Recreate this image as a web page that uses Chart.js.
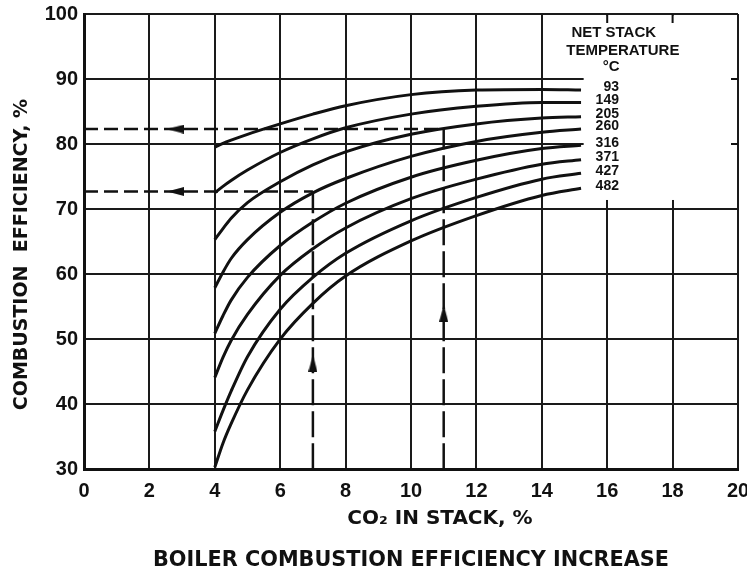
<!DOCTYPE html>
<html>
<head>
<meta charset="utf-8">
<script src="https://cdn.jsdelivr.net/npm/chart.js@4.4.1/dist/chart.umd.min.js"></script>
<style>
  html, body { margin: 0; padding: 0; background: #fff; }
  canvas { display: block; }
</style>
</head>
<body>
<canvas id="boiler" width="747" height="571"></canvas>
<script>
// CO2 in stack (%) where the curves were read
const co2 = [4, 4.25, 4.5, 5, 6, 7, 8, 10, 12, 14, 15.2];
// net stack temperature, deg C
const temps = ["93", "149", "205", "260", "316", "371", "427", "482"];
// combustion efficiency (%) for each stack temperature
const eff93 = [79.5, 80.1, 80.6, 81.5, 83.1, 84.6, 85.9, 87.6, 88.3, 88.4, 88.3];
const eff149 = [72.5, 73.5, 74.4, 76.0, 78.7, 80.8, 82.5, 84.6, 85.8, 86.4, 86.4];
const eff205 = [65.3, 67.0, 68.6, 71.0, 74.2, 76.8, 78.8, 81.5, 83.1, 84.0, 84.2];
const eff260 = [57.9, 60.3, 62.4, 65.3, 69.5, 72.5, 74.7, 78.1, 80.4, 81.8, 82.3];
const eff316 = [50.9, 53.6, 56.0, 59.5, 64.4, 68.0, 70.9, 74.9, 77.5, 79.3, 79.8];
const eff371 = [44.1, 47.2, 49.8, 53.8, 59.8, 63.9, 67.1, 71.6, 74.6, 76.9, 77.6];
const eff427 = [35.8, 39.0, 42.0, 47.3, 54.6, 59.5, 63.2, 68.2, 71.8, 74.6, 75.5];
const eff482 = [30.3, 34.0, 37.0, 42.2, 50.0, 55.5, 59.7, 65.1, 69.0, 72.1, 73.2];
const curves = [eff93, eff149, eff205, eff260, eff316, eff371, eff427, eff482];
// worked example: read-off lines
const guideCo2 = [7, 11];
const guideEff = [72.7, 82.3];
const arrowLeftX = [2.8, 2.8];
const arrowUpY = [46.3, 54.0];

const ink = "#111";

// elongated arrow head used as point style
const arrowHead = document.createElement("canvas");
arrowHead.width = 9;
arrowHead.height = 17;
{
	const g = arrowHead.getContext("2d");
	g.fillStyle = ink;
	g.beginPath();
	g.moveTo(4.5, 0);
	g.lineTo(9, 17);
	g.lineTo(0, 17);
	g.closePath();
	g.fill();
}

let datasets = temps.map((t, i) => ({
	label: t + " °C",
	data: co2.map((x, j) => ({ x: x, y: curves[i][j] })),
	borderColor: ink,
	borderWidth: 3,
	pointRadius: 0,
	cubicInterpolationMode: "monotone",
}));

guideCo2.forEach((c, i) => {
	// horizontal dashed read-across
	datasets.push({
		data: [{ x: 0, y: guideEff[i] }, { x: c, y: guideEff[i] }],
		borderColor: ink,
		borderWidth: 2.5,
		borderDash: [14, 6],
		pointRadius: 0,
	});
	// vertical dashed read-up
	datasets.push({
		data: [{ x: c, y: 30 }, { x: c, y: guideEff[i] }],
		borderColor: ink,
		borderWidth: 2.5,
		borderDash: [26, 6],
		pointRadius: 0,
	});
	// arrow heads
	datasets.push({
		data: [{ x: arrowLeftX[i], y: guideEff[i] }],
		showLine: false,
		pointStyle: arrowHead,
		pointRadius: 5,
		rotation: 270,
	});
	datasets.push({
		data: [{ x: c, y: arrowUpY[i] }],
		showLine: false,
		pointStyle: arrowHead,
		pointRadius: 5,
		rotation: 0,
	});
});

// blank legend panel, curve labels and axis titles
const chartText = {
	id: "chartText",
	beforeDatasetsDraw(chart) {
		const { ctx, chartArea: a, scales } = chart;
		const x = scales.x, y = scales.y;
		const bx = x.getPixelForValue(15.28);
		const by = y.getPixelForValue(71.4);
		ctx.save();
		ctx.fillStyle = "#fff";
		ctx.fillRect(bx, a.top + 1.5, a.right - 1.5 - bx, by - a.top - 1.5);
		ctx.strokeStyle = ink;
		ctx.lineWidth = 2;
		ctx.beginPath();
		[16, 18].forEach((v) => {
			const px = x.getPixelForValue(v);
			ctx.moveTo(px, a.top);
			ctx.lineTo(px, a.top + 9);
		});
		[90, 80].forEach((v) => {
			const py = y.getPixelForValue(v);
			ctx.moveTo(a.right, py);
			ctx.lineTo(a.right - 7, py);
		});
		ctx.stroke();
		ctx.restore();
	},
	afterDraw(chart) {
		const { ctx, chartArea: a, scales } = chart;
		const x = scales.x, y = scales.y;
		ctx.save();
		ctx.fillStyle = ink;
		// legend header
		ctx.font = 'bold 15px "Liberation Sans", sans-serif';
		ctx.textAlign = "center";
		ctx.textBaseline = "middle";
		ctx.fillText("NET STACK", x.getPixelForValue(16.2), y.getPixelForValue(97.1));
		ctx.fillText("TEMPERATURE", x.getPixelForValue(16.48), y.getPixelForValue(94.3));
		ctx.fillText("°C", x.getPixelForValue(16.12), y.getPixelForValue(91.9));
		// curve labels
		ctx.font = 'bold 14px "Liberation Sans", sans-serif';
		ctx.textAlign = "right";
		temps.forEach((t, i) => {
			const last = curves[i][curves[i].length - 1];
			ctx.fillText(t, x.getPixelForValue(16.36), y.getPixelForValue(last) - 2.5);
		});
		// axis titles
		ctx.font = 'bold 20px "DejaVu Sans", sans-serif';
		ctx.textAlign = "center";
		ctx.fillText("CO₂ IN STACK, %", (a.left + a.right) / 2 + 29, a.bottom + 50);
		ctx.font = 'bold 19px "DejaVu Sans", sans-serif';
		ctx.translate(22, (a.top + a.bottom) / 2 + 13);
		ctx.rotate(-Math.PI / 2);
		ctx.fillText("COMBUSTION  EFFICIENCY, %", 0, 0);
		ctx.restore();
	},
};

const tickFont = { family: "Liberation Sans", size: 20, weight: "bold" };

new Chart(document.getElementById("boiler"), {
	type: "line",
	data: { datasets: datasets },
	options: {
		responsive: false,
		animation: false,
		layout: { padding: { top: 14, right: 9, left: 0, bottom: 0 } },
		scales: {
			x: {
				type: "linear",
				min: 0,
				max: 20,
				ticks: { stepSize: 2, color: ink, font: tickFont, padding: 10 },
				grid: { color: "#1a1a1a", lineWidth: 2, drawTicks: false },
				border: { color: ink, width: 3 },
				afterFit: (s) => {
					s.height = 69;
					s.paddingLeft = 0;
					s.paddingRight = 0;
				},
			},
			y: {
				min: 30,
				max: 100,
				ticks: { stepSize: 10, color: ink, font: tickFont, padding: 6 },
				grid: { color: "#1a1a1a", lineWidth: 2, drawTicks: false },
				border: { color: ink, width: 3 },
				afterFit: (s) => {
					s.width = 84;
					s.paddingTop = 0;
					s.paddingBottom = 0;
				},
			},
		},
		plugins: {
			legend: { display: false },
			tooltip: { enabled: false },
			title: {
				display: true,
				position: "bottom",
				fullSize: false,
				text: "BOILER COMBUSTION EFFICIENCY INCREASE",
				color: ink,
				font: { family: "DejaVu Sans", size: 20.8, weight: "bold", lineHeight: 1 },
				padding: { top: 12, bottom: 0 },
			},
		},
	},
	plugins: [chartText],
});
</script>
</body>
</html>
